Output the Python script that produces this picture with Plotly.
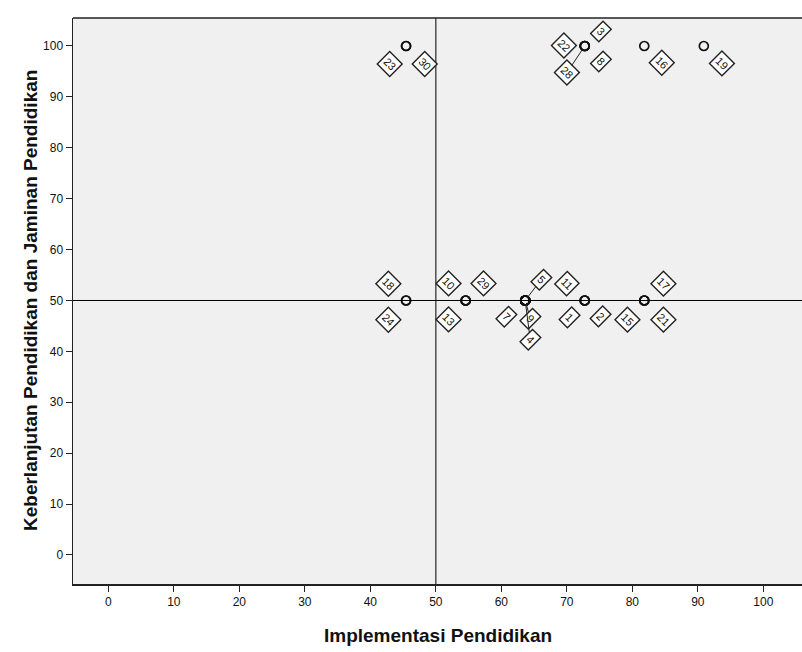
import plotly.graph_objects as go

# ---- data ----
case_ids = list(range(1, 31))
implementasi = [72.73, 72.73, 72.73, 63.64, 63.64, 63.64, 63.64, 72.73, 63.64, 54.55,
                72.73, 63.64, 54.55, 63.64, 81.82, 81.82, 81.82, 45.45, 90.91, 63.64,
                81.82, 72.73, 45.45, 45.45, 63.64, 63.64, 63.64, 72.73, 54.55, 45.45]
keberlanjutan = [50, 50, 100, 50, 50, 50, 50, 100, 50, 50,
                 50, 50, 50, 50, 50, 100, 50, 50, 100, 50,
                 50, 100, 100, 50, 50, 50, 50, 100, 50, 100]
x_ticks = [0, 10, 20, 30, 40, 50, 60, 70, 80, 90, 100]
y_ticks = [0, 10, 20, 30, 40, 50, 60, 70, 80, 90, 100]
ref_x = 50
ref_y = 50
x_title = "Implementasi Pendidikan"
y_title = "Keberlanjutan Pendidikan dan Jaminan Pendidikan"

# label placement (pixel offsets from the point; dy positive = down) and leader-line flag
labeled_cases = [23, 30, 22, 28, 3, 8, 16, 19, 18, 24, 10, 13, 29, 5, 7, 9, 4, 11, 1, 2, 17, 15, 21]
label_dx = [-17, 18, -21, -18, 16, 16, 17, 18, -18, -18, -17, -17, 18, 16, -19, 5, 5, -18, -15, 16, 19, -17, 19]
label_dy = [18, 18, 0, 27, -14, 16, 17, 18, -17, 19, -17, 19, -17, -21, 16, 18, 39, -17, 17, 16, -17, 19, 19]
label_leader = [False, False, False, True, False, False, False, False, False, False, False, False,
                False, True, False, True, True, False, False, False, False, False, False]

fig = go.Figure()

fig.add_trace(go.Scatter(
    x=implementasi, y=keberlanjutan, mode="markers",
    marker=dict(symbol="circle-open", size=9, color="#111111", line=dict(width=1.7, color="#111111")),
    hoverinfo="skip", showlegend=False, cliponaxis=True,
))

annotations = []
for cid, dx, dy, lead in zip(labeled_cases, label_dx, label_dy, label_leader):
    i = case_ids.index(cid)
    px, py = implementasi[i], keberlanjutan[i]
    common = dict(
        x=px, y=py, xref="x", yref="y", text=str(cid), textangle=45,
        font=dict(family="Liberation Sans, Arial, sans-serif", size=11, color="#111111"),
        bgcolor="white", bordercolor="#222222", borderwidth=1.4, borderpad=2,
    )
    if lead:
        annotations.append(dict(**common, showarrow=True, arrowhead=0, arrowwidth=1,
                                arrowcolor="#222222", ax=dx, ay=dy, standoff=4))
    else:
        annotations.append(dict(**common, showarrow=False, xshift=dx, yshift=-dy))

title_font = dict(family="Liberation Sans, Arial, sans-serif", size=19, color="#111111")
annotations.append(dict(text="<b>%s</b>" % x_title, xref="paper", yref="paper", x=0.5, y=0,
                        xanchor="center", yanchor="middle", yshift=-51, showarrow=False, font=title_font))
annotations.append(dict(text="<b>%s</b>" % y_title, xref="paper", yref="paper", x=0, y=0.5,
                        xanchor="center", yanchor="middle", xshift=-43, textangle=-90,
                        showarrow=False, font=title_font))

fig.update_layout(annotations=annotations)

# reference lines
fig.add_shape(type="line", xref="x", yref="paper", x0=ref_x, x1=ref_x, y0=0, y1=1,
              line=dict(color="black", width=1))
fig.add_shape(type="line", xref="paper", yref="y", x0=0, x1=1, y0=ref_y, y1=ref_y,
              line=dict(color="black", width=1))
# top border
fig.add_shape(type="line", xref="paper", yref="paper", x0=0, x1=1, y0=1, y1=1,
              line=dict(color="#222222", width=1.5))

tick_font = dict(family="Liberation Sans, Arial", size=12, color="#111111")

fig.update_xaxes(
    range=[-5.4, 105.9], tickmode="array", tickvals=x_ticks, ticktext=[str(v) for v in x_ticks],
    ticks="outside", ticklen=6, tickwidth=1, tickcolor="#222222",
    showline=True, linecolor="#222222", linewidth=1.5, mirror=False,
    showgrid=False, zeroline=False, tickfont=tick_font, automargin=False,
)
fig.update_yaxes(
    range=[-5.7, 105.5], tickmode="array", tickvals=y_ticks, ticktext=[str(v) for v in y_ticks],
    ticks="outside", ticklen=6, tickwidth=1, tickcolor="#222222",
    showline=True, linecolor="#222222", linewidth=1.5, mirror=False,
    showgrid=False, zeroline=False, tickfont=tick_font, automargin=False,
)

fig.update_layout(
    width=802, height=652,
    margin=dict(l=73, r=0, t=18, b=68, pad=0, autoexpand=False),
    plot_bgcolor="#f0f0f0", paper_bgcolor="white",
)

fig.write_html("out.html", config={"displayModeBar": False, "staticPlot": True},
               post_script="document.body.style.margin='0px';document.body.style.overflow='hidden';")
